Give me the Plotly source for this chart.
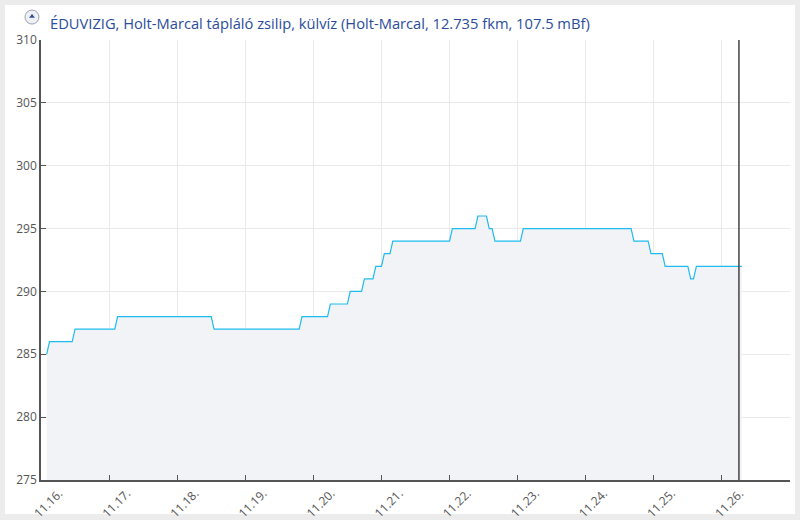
import plotly.graph_objects as go

# water level (cm) at the points where the reading changes
times = [
    "2023-11-16 02:00", "2023-11-16 03:00", "2023-11-16 11:00", "2023-11-16 12:00",
    "2023-11-17 02:00", "2023-11-17 03:00", "2023-11-18 12:00", "2023-11-18 13:00",
    "2023-11-19 19:00", "2023-11-19 20:00", "2023-11-20 05:00", "2023-11-20 06:00",
    "2023-11-20 12:00", "2023-11-20 13:00", "2023-11-20 17:00", "2023-11-20 18:00",
    "2023-11-20 21:00", "2023-11-20 22:00", "2023-11-21 00:00", "2023-11-21 01:00",
    "2023-11-21 03:00", "2023-11-21 04:00", "2023-11-22 00:00", "2023-11-22 01:00",
    "2023-11-22 09:00", "2023-11-22 10:00", "2023-11-22 13:00", "2023-11-22 14:00",
    "2023-11-22 15:00", "2023-11-22 16:00", "2023-11-23 01:00", "2023-11-23 02:00",
    "2023-11-24 16:00", "2023-11-24 17:00", "2023-11-24 22:00", "2023-11-24 23:00",
    "2023-11-25 03:00", "2023-11-25 04:00", "2023-11-25 12:00", "2023-11-25 13:00",
    "2023-11-25 14:00", "2023-11-25 15:00", "2023-11-26 07:00",
]
levels = [
    285, 286, 286, 287,
    287, 288, 288, 287,
    287, 288, 288, 289,
    289, 290, 290, 291,
    291, 292, 292, 293,
    293, 294, 294, 295,
    295, 296, 296, 295,
    295, 294, 294, 295,
    295, 294, 294, 293,
    293, 292, 292, 291,
    291, 292, 292,
]

day_ticks = [f"2023-11-{d}" for d in range(16, 28)]
day_labels = [f"11.{d}." for d in range(16, 27)] + [""]
now = "2023-11-26 06:00"

title = "ÉDUVIZIG, Holt-Marcal tápláló zsilip, külvíz (Holt-Marcal, 12.735 fkm, 107.5 mBf)"

fig = go.Figure(
    go.Scatter(
        x=times, y=levels, mode="lines",
        line=dict(color="#1dbcf0", width=1.2),
        fill="tozeroy", fillcolor="#f2f3f7",
        hoverinfo="skip",
    )
)

axis_common = dict(
    showline=True, linecolor="#555555", linewidth=1.5,
    ticks="inside", ticklen=5, tickcolor="#555555", tickwidth=1,
    showgrid=True, gridcolor="#e9e9eb", gridwidth=1,
    tickfont=dict(family="Open Sans", size=12, color="#555555"),
    zeroline=False, automargin=False,
)

fig.update_xaxes(
    type="date", range=["2023-11-16", "2023-11-27"],
    tickmode="array", tickvals=day_ticks, ticktext=day_labels,
    tickangle=-45, ticklabelshift=18,
    **axis_common,
)
fig.update_yaxes(range=[275, 310], dtick=5, tick0=275, **axis_common)

# "now" marker
fig.add_shape(type="line", xref="x", yref="paper", x0=now, x1=now, y0=0, y1=1,
              line=dict(color="#444444", width=1.5))

# white card on grey page
fig.add_shape(type="rect", xref="paper", yref="paper", layer="below",
              x0=-0.048, x1=1.0067, y0=-0.0773, y1=1.0795,
              fillcolor="white", line=dict(width=0))

# small logo before the title
fig.add_shape(type="circle", xref="paper", yref="paper",
              x0=-0.0214, x1=-0.0027, y0=1.0363, y1=1.0681,
              fillcolor="#eef0f4", line=dict(color="#9aa3b5", width=1))
fig.add_shape(type="path", xref="paper", yref="paper",
              path="M -0.0160,1.0506 L -0.0081,1.0506 L -0.0120,1.0591 Z",
              fillcolor="#2a4d9b", line=dict(width=0))

fig.update_layout(
    width=800, height=520,
    paper_bgcolor="#ececec", plot_bgcolor="white",
    margin=dict(l=41, r=10, t=40, b=40),
    showlegend=False,
    title=dict(text=title, x=50 / 800, xanchor="left", y=1 - 24 / 520, yanchor="middle",
               font=dict(family="Open Sans", size=14.7, color="#2a4d9b")),
)

fig.write_html("out.html", config={"displayModeBar": False},
               post_script="document.body.style.margin='0';document.body.style.background='#ececec';")
